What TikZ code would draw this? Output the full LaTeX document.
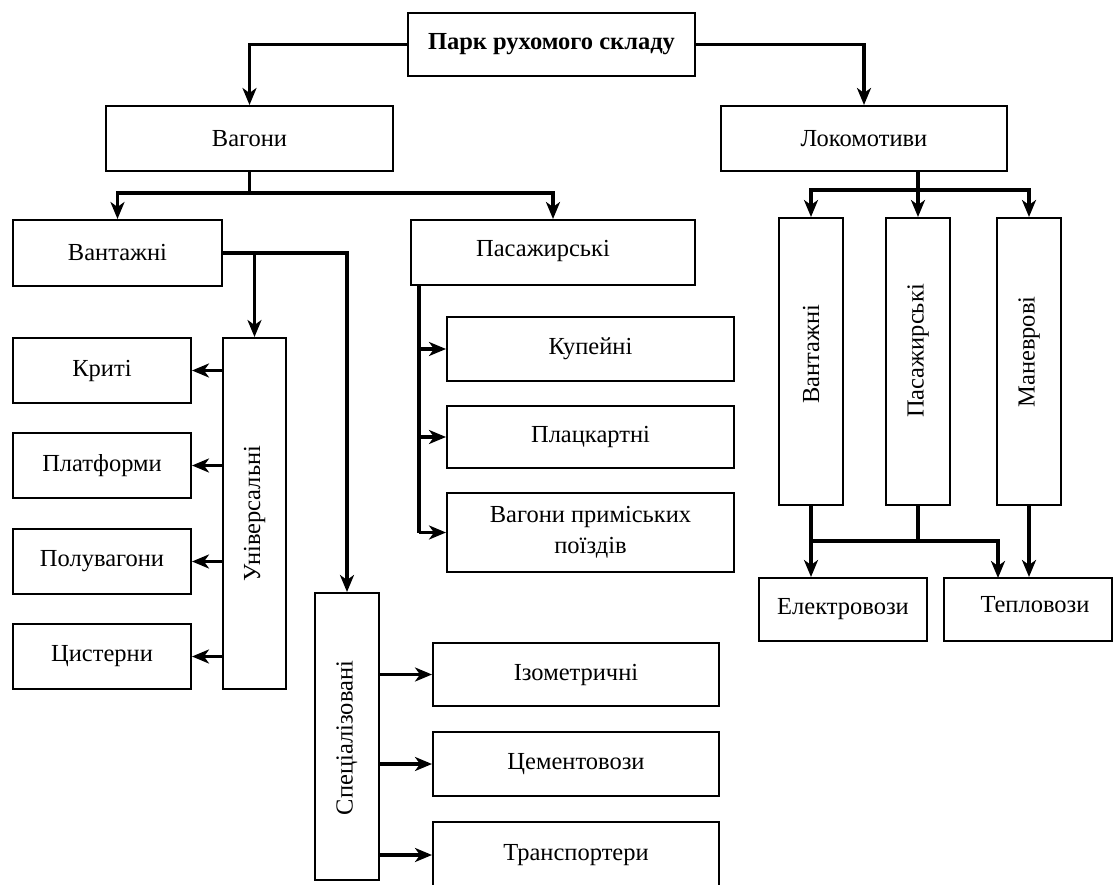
\documentclass[tikz,border=0pt]{standalone}
\usepackage{fontspec}
\setmainfont{Liberation Serif}
\usetikzlibrary{arrows.meta}

\begin{document}
\begin{tikzpicture}[x=1pt,y=-1pt,
  box/.style={draw=black,line width=2pt,fill=white,inner sep=0pt,
    font=\fontsize{24.5}{31}\selectfont,align=center},
  lbl/.style={inner sep=0pt,font=\fontsize{24.5}{31}\selectfont},
  conn/.style={line width=3.3pt},
  arr/.style={conn,-{Stealth[length=17pt,width=14pt,inset=5pt]}}]
\useasboundingbox (0,0) rectangle (1116,885);
\clip (0,0) rectangle (1116,885);
\fill[white] (0,0) rectangle (1116,885);

% top level
\node[box,minimum width=287pt,minimum height=63pt,font=\fontsize{24.5}{31}\selectfont\bfseries]
  (park) at (551.5,44.5) {Парк рухомого складу};
\node[box,minimum width=287pt,minimum height=65pt] (vagony) at (249.5,138.5) {Вагони};
\node[box,minimum width=286pt,minimum height=65pt] (lokom) at (864,138.5) {Локомотиви};

% wagons
\node[box,minimum width=209pt,minimum height=66pt] (vant) at (117.5,253) {Вантажні};
\node[box,minimum width=284pt,minimum height=65pt] (pas) at (553,252.5) {};
\node[lbl] (pasT) at (543,251) {Пасажирські};

\node[box,minimum width=63pt,minimum height=351pt] (univ) at (254.5,513.5) {};
\node[lbl,rotate=90] (univT) at (univ) {Універсальні};
\node[box,minimum width=178pt,minimum height=65pt] (kryti) at (102,370.5) {Криті};
\node[box,minimum width=178pt,minimum height=65pt] (platf) at (102,465.5) {Платформи};
\node[box,minimum width=178pt,minimum height=65pt] (poluv) at (102,561.5) {Полувагони};
\node[box,minimum width=178pt,minimum height=65pt] (tsyst) at (102,656.5) {Цистерни};

\node[box,minimum width=64pt,minimum height=287pt] (spec) at (347,736.5) {};
\node[lbl,rotate=90] (specT) at (347,738) {Спеціалізовані};
\node[box,minimum width=286pt,minimum height=63pt] (izom) at (576,674.5) {Ізометричні};
\node[box,minimum width=286pt,minimum height=64pt] (cem) at (576,764) {Цементовози};
\node[box,minimum width=286pt,minimum height=66pt] (transp) at (576,855) {Транспортери};

\node[box,minimum width=287pt,minimum height=64pt] (kupe) at (590.5,349) {Купейні};
\node[box,minimum width=287pt,minimum height=62pt] (platsk) at (590.5,437) {Плацкартні};
\node[box,minimum width=287pt,minimum height=79pt] (prym) at (590.5,532.5)
  {Вагони приміських\\поїздів};

% locomotives
\node[box,minimum width=64pt,minimum height=287pt] (vantL) at (811,361.5) {};
\node[lbl,rotate=90] (vantLT) at (811,354) {Вантажні};
\node[box,minimum width=64pt,minimum height=287pt] (pasL) at (918,361.5) {};
\node[lbl,rotate=90] (pasLT) at (918,351) {Пасажирські};
\node[box,minimum width=64pt,minimum height=287pt] (manL) at (1029,361.5) {};
\node[lbl,rotate=90] (manLT) at (1029,352) {Маневрові};
\node[box,minimum width=168pt,minimum height=63pt] (elek) at (843,609.5) {Електровози};
\node[box,minimum width=168pt,minimum height=63pt] (tepl) at (1028,609.5) {};
\node[lbl] (teplT) at (1035,605) {Тепловози};

% junction points
\coordinate (vb) at (249.5,193);
\coordinate (lb) at (918,190);
\coordinate (pt) at (419,285);
\coordinate (pb) at (918,541);
\coordinate (tin) at (998,578);

% connectors
\draw[arr] (park.west) -| (vagony.north);
\draw[arr] (park.east) -| (lokom.north);

\draw[conn] (vagony.south) -- (vb);
\draw[arr] (vb) -| (vant.north);
\draw[arr] (vb) -| (pas.north);

\draw[arr] (vant.east) -| (spec.north);
\draw[arr] (vant.east -| univ.north) -- (univ.north);
\draw[arr] (univ.west |- kryti.east) -- (kryti.east);
\draw[arr] (univ.west |- platf.east) -- (platf.east);
\draw[arr] (univ.west |- poluv.east) -- (poluv.east);
\draw[arr] (univ.west |- tsyst.east) -- (tsyst.east);

\draw[arr] (spec.east |- izom.west) -- (izom.west);
\draw[arr] (spec.east |- cem.west) -- (cem.west);
\draw[arr] (spec.east |- transp.west) -- (transp.west);

\draw[conn] (pt) -- (pt |- prym.west);
\draw[arr] (pt |- kupe.west) -- (kupe.west);
\draw[arr] (pt |- platsk.west) -- (platsk.west);
\draw[arr] (pt |- prym.west) -- (prym.west);

\draw[conn] (lokom.south -| lb) -- (lb);
\draw[arr] (lb) -| (vantL.north);
\draw[arr] (lb) -- (pasL.north);
\draw[arr] (lb) -| (manL.north);

\draw[arr] (vantL.south) -- (vantL.south |- elek.north);
\draw[conn] (pasL.south) -- (pb);
\draw[conn] (pb) -- (vantL.south |- pb);
\draw[arr] (pb) -| (tin);
\draw[arr] (manL.south) -- (manL.south |- tepl.north);
\end{tikzpicture}
\end{document}
